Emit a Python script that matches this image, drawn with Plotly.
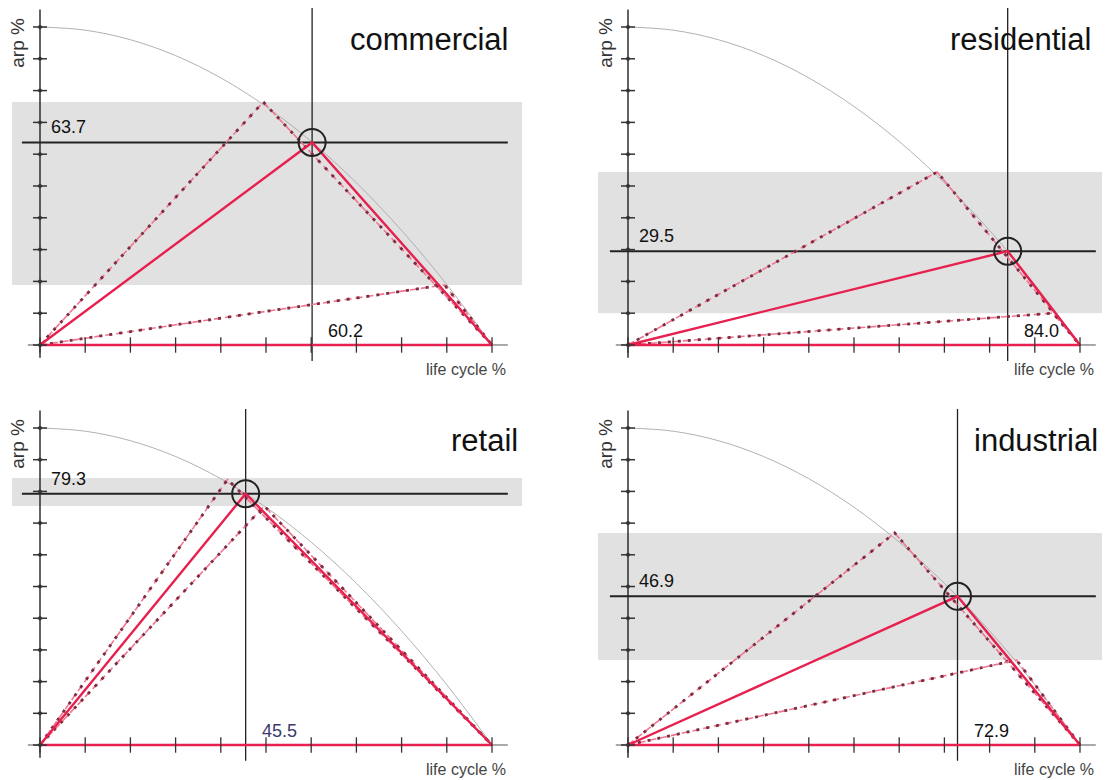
import plotly.graph_objects as go

# ---------------- data ----------------
panels = ["commercial", "residential", "retail", "industrial"]
point_x = [60.2, 84.0, 45.5, 72.9]          # life cycle %
point_y = [63.7, 29.5, 79.3, 46.9]          # arp %
x_labels = ["60.2", "84.0", "45.5", "72.9"]
y_labels = ["63.7", "29.5", "79.3", "46.9"]
upper_x = [49.4, 68.4, 41.5, 59.0]
upper_y = [76.4, 54.4, 83.8, 66.9]
lower_x = [89.5, 94.0, 49.6, 86.0]
lower_y = [18.9, 10.0, 75.4, 26.8]
band_lo = [18.9, 10.0, 75.4, 26.8]
band_hi = [76.4, 54.4, 84.2, 66.9]
curve_x = [0, 10, 20, 30, 40, 50, 60, 70, 80, 90, 100]
curve_y = [100, 99, 96, 91, 84, 75, 64, 51, 36, 19, 0]
tick_vals = [0, 10, 20, 30, 40, 50, 60, 70, 80, 90, 100]

# ---------------- layout geometry ----------------
# the page body has an 8px margin, so the figure is laid out in page px minus 8
W, H = 1102, 772
x_dom = [[4 / W, 514 / W], [590 / W, 1.0], [4 / W, 514 / W], [590 / W, 1.0]]
x_rng = [[-6.195, 106.637], [-6.637, 106.637], [-6.195, 106.637], [-6.637, 106.637]]
y_dom = [[1 - 377 / H, 1.0], [1 - 377 / H, 1.0], [0.0, 1 - 397 / H], [0.0, 1 - 397 / H]]
y_rng = [[-12.58, 105.97], [-12.58, 105.97], [-11.04, 107.26], [-11.04, 107.26]]
title_x = [104.0, 102.9, 106.2, 104.4]
xlab_color = ["#111111", "#111111", "#3a3a6e", "#111111"]

RED = "#e8204f"
PINK = "#f27692"
MAROON = "#7e2c40"
BLACK = "#222222"
FONT = "Liberation Sans, Arial"

fig = go.Figure()
layout_axes = {}
shapes = []
annotations = []

for i, name in enumerate(panels):
    n = "" if i == 0 else str(i + 1)
    xa, ya = "x" + n, "y" + n
    layout_axes["xaxis" + n] = dict(domain=x_dom[i], range=x_rng[i], anchor=ya, visible=False,
                                    fixedrange=True)
    layout_axes["yaxis" + n] = dict(domain=y_dom[i], range=y_rng[i], anchor=xa, visible=False,
                                    fixedrange=True)
    px, py = point_x[i], point_y[i]

    # grey band
    shapes.append(dict(type="rect", xref=xa + " domain", yref=ya, x0=0, x1=1,
                       y0=band_lo[i], y1=band_hi[i], fillcolor="#e1e1e1",
                       line=dict(width=0), layer="below"))

    def add(x, y, **kw):
        fig.add_trace(go.Scatter(x=x, y=y, xaxis=xa, yaxis=ya, hoverinfo="skip",
                                 showlegend=False, cliponaxis=False, **kw))

    # curve
    add(curve_x, curve_y, mode="lines", line=dict(color="#a8a8a8", width=0.9, shape="spline"))
    # axes lines
    add([0, 0], [-4, 105.5], mode="lines", line=dict(color=BLACK, width=1.4))
    add([-2.7, 103.5], [0, 0], mode="lines", line=dict(color="#555555", width=1))
    # crosshair
    add([-4, 103.5], [py, py], mode="lines", line=dict(color=BLACK, width=2))
    add([px, px], [-5, 106], mode="lines", line=dict(color=BLACK, width=1.3))
    # dashed scenario lines
    for (ux, uy) in [(upper_x[i], upper_y[i]), (lower_x[i], lower_y[i])]:
        add([0, ux, 100], [0, uy, 0], mode="lines",
            line=dict(color=PINK, width=1.6, dash="7px,4px"))
        add([0, ux, 100], [0, uy, 0], mode="lines",
            line=dict(color=MAROON, width=2.8, dash="3px,7px"))
    # solid red triangle
    add([0, px, 100, 0], [0, py, 0, 0], mode="lines", line=dict(color=RED, width=2.4))
    # ticks
    add(tick_vals, [0] * len(tick_vals), mode="markers",
        marker=dict(symbol="line-ns", size=11, color="#333333",
                    line=dict(color="#333333", width=1.3)))
    add([0] * len(tick_vals), tick_vals, mode="markers",
        marker=dict(symbol="line-ew", size=10, color="#333333",
                    line=dict(color="#333333", width=1.5)))
    add([0] * len(tick_vals), tick_vals, mode="markers",
        marker=dict(symbol="circle", size=4, color="#333333"))
    # circle marker
    add([px], [py], mode="markers",
        marker=dict(symbol="circle-open", size=27, color=BLACK,
                    line=dict(color=BLACK, width=2)))

    # texts
    annotations.append(dict(x=title_x[i], y=96, xref=xa, yref=ya, text=name, showarrow=False,
                            xanchor="right", yanchor="middle",
                            font=dict(size=31, color="#111111", family=FONT)))
    annotations.append(dict(x=-4.9, y=95, xref=xa, yref=ya, text="arp %", showarrow=False,
                            textangle=-90, xanchor="center", yanchor="middle",
                            font=dict(size=19, color="#333333", family=FONT)))
    annotations.append(dict(x=103.5, y=-7.6, xref=xa, yref=ya, text="life cycle %", showarrow=False,
                            xanchor="right", yanchor="middle",
                            font=dict(size=16, color="#444444", family=FONT)))
    annotations.append(dict(x=2, y=py, xref=xa, yref=ya, text=y_labels[i], showarrow=False,
                            xanchor="left", yanchor="bottom", yshift=3,
                            font=dict(size=18, color="#111111", family=FONT)))
    annotations.append(dict(x=px, y=0, xref=xa, yref=ya, text=x_labels[i], showarrow=False,
                            xanchor="left", yanchor="bottom", xshift=14, yshift=2,
                            font=dict(size=18, color=xlab_color[i], family=FONT)))

fig.update_layout(width=W, height=H, margin=dict(l=0, r=0, t=0, b=0),
                  paper_bgcolor="white", plot_bgcolor="white",
                  shapes=shapes, annotations=annotations, **layout_axes)
fig.write_html("out.html")
